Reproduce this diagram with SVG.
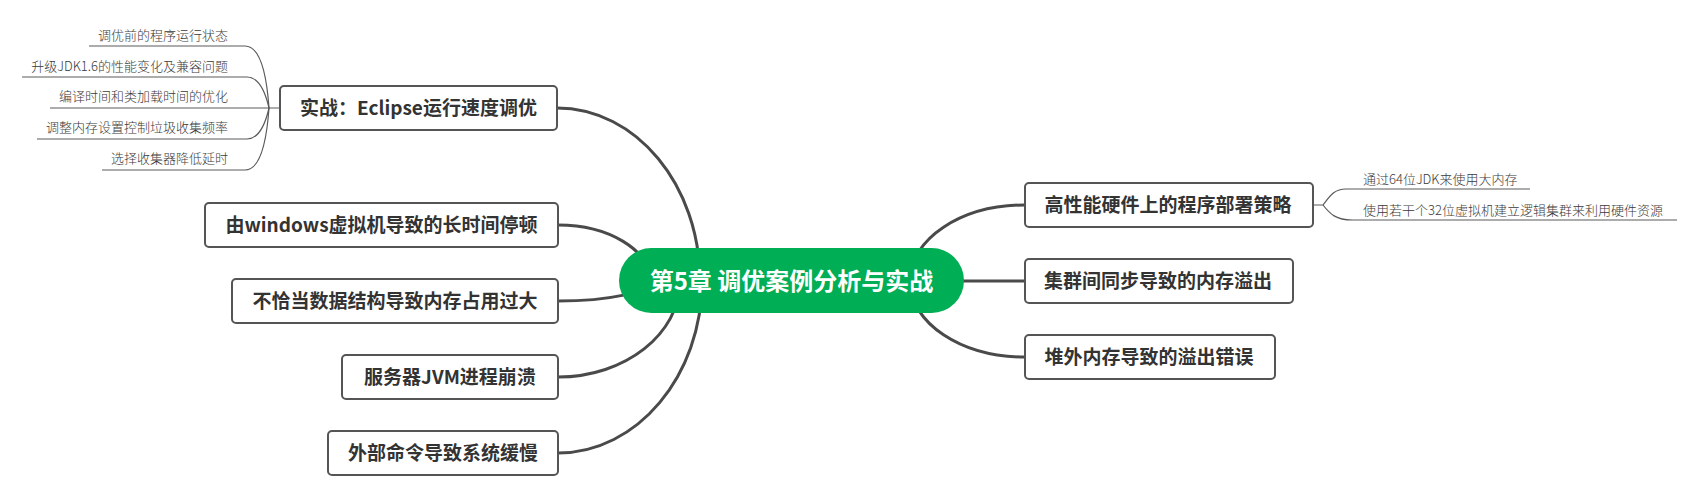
<svg xmlns="http://www.w3.org/2000/svg" width="1697" height="496" viewBox="0 0 1697 496">
<style>
.main{fill:none;stroke:#4a4a4a;stroke-width:3;stroke-linecap:round}
.sub{fill:none;stroke:#5a5a5a;stroke-width:1.2}
.box{fill:#ffffff;stroke:#555555;stroke-width:2}
.bt{font-family:"Noto Sans CJK SC","Liberation Sans",sans-serif;font-size:19px;font-weight:700;fill:#333333;text-anchor:middle}
.st{font-family:"Noto Sans CJK SC","Liberation Sans",sans-serif;font-size:13px;font-weight:300;fill:#3a3a3a}
.ct{font-family:"Noto Sans CJK SC","Liberation Sans",sans-serif;font-size:24px;font-weight:700;fill:#ffffff;text-anchor:middle}
</style>
<rect width="1697" height="496" fill="#ffffff"/>
<g id="connectors">
<path class="main" d="M557,108 C636,108 700,185 700,281"/>
<path class="main" d="M558,225 C609,225 650,250 650,281"/>
<path class="main" d="M558,301 C609,301 651,292 651,281"/>
<path class="main" d="M558,377 C625,377 680,334 680,281"/>
<path class="main" d="M558,453 C637,453 702,376 702,281"/>
<path class="main" d="M1025,205 C961,205 910,239 910,281"/>
<path class="main" d="M900,281 H1025"/>
<path class="main" d="M1025,357 C961,357 910,323 910,281"/>
<path class="sub" d="M89,46 H245 C262,46 267,80 269,108"/>
<path class="sub" d="M22,77 H247 C260,77 266,95 269,108"/>
<path class="sub" d="M50,108 H280"/>
<path class="sub" d="M37,139 H247 C260,139 266,121 269,108"/>
<path class="sub" d="M102,170 H245 C262,170 267,136 269,108"/>
<path class="sub" d="M1313,205 H1323 C1330,196 1334,189 1346,189 H1530"/>
<path class="sub" d="M1323,205 C1330,214 1336,220 1352,220 H1677"/>
</g>
<g id="center">
<rect x="619" y="248" width="345" height="65" rx="32.5" fill="#00AE55"/>
<text class="ct" x="791.5" y="290">第5章 调优案例分析与实战</text>
</g>
<g id="n-eclipse">
<rect class="box" x="280" y="86" width="277" height="44" rx="4"/>
<text class="bt" x="418.5" y="115">实战：Eclipse运行速度调优</text>
</g>
<g id="n-eclipse-1"><text class="st" x="228" y="39.5" text-anchor="end">调优前的程序运行状态</text></g>
<g id="n-eclipse-2"><text class="st" x="228" y="70.5" text-anchor="end">升级JDK1.6的性能变化及兼容问题</text></g>
<g id="n-eclipse-3"><text class="st" x="228" y="101" text-anchor="end">编译时间和类加载时间的优化</text></g>
<g id="n-eclipse-4"><text class="st" x="228" y="132" text-anchor="end">调整内存设置控制垃圾收集频率</text></g>
<g id="n-eclipse-5"><text class="st" x="228" y="163" text-anchor="end">选择收集器降低延时</text></g>
<g id="n-windows">
<rect class="box" x="205" y="203" width="353" height="44" rx="4"/>
<text class="bt" x="381.5" y="232">由windows虚拟机导致的长时间停顿</text>
</g>
<g id="n-struct">
<rect class="box" x="232" y="279" width="326" height="44" rx="4"/>
<text class="bt" x="395" y="308">不恰当数据结构导致内存占用过大</text>
</g>
<g id="n-jvm">
<rect class="box" x="342" y="355" width="216" height="44" rx="4"/>
<text class="bt" x="450" y="384">服务器JVM进程崩溃</text>
</g>
<g id="n-cmd">
<rect class="box" x="328" y="431" width="230" height="44" rx="4"/>
<text class="bt" x="443" y="460">外部命令导致系统缓慢</text>
</g>
<g id="n-hw">
<rect class="box" x="1025" y="183" width="288" height="44" rx="4"/>
<text class="bt" x="1168" y="212">高性能硬件上的程序部署策略</text>
</g>
<g id="n-hw-1"><text class="st" x="1363" y="183.5">通过64位JDK来使用大内存</text></g>
<g id="n-hw-2"><text class="st" x="1363" y="214.5">使用若干个32位虚拟机建立逻辑集群来利用硬件资源</text></g>
<g id="n-cluster">
<rect class="box" x="1025" y="259" width="268" height="44" rx="4"/>
<text class="bt" x="1158" y="288">集群间同步导致的内存溢出</text>
</g>
<g id="n-offheap">
<rect class="box" x="1025" y="335" width="250" height="44" rx="4"/>
<text class="bt" x="1149" y="364">堆外内存导致的溢出错误</text>
</g>
</svg>
